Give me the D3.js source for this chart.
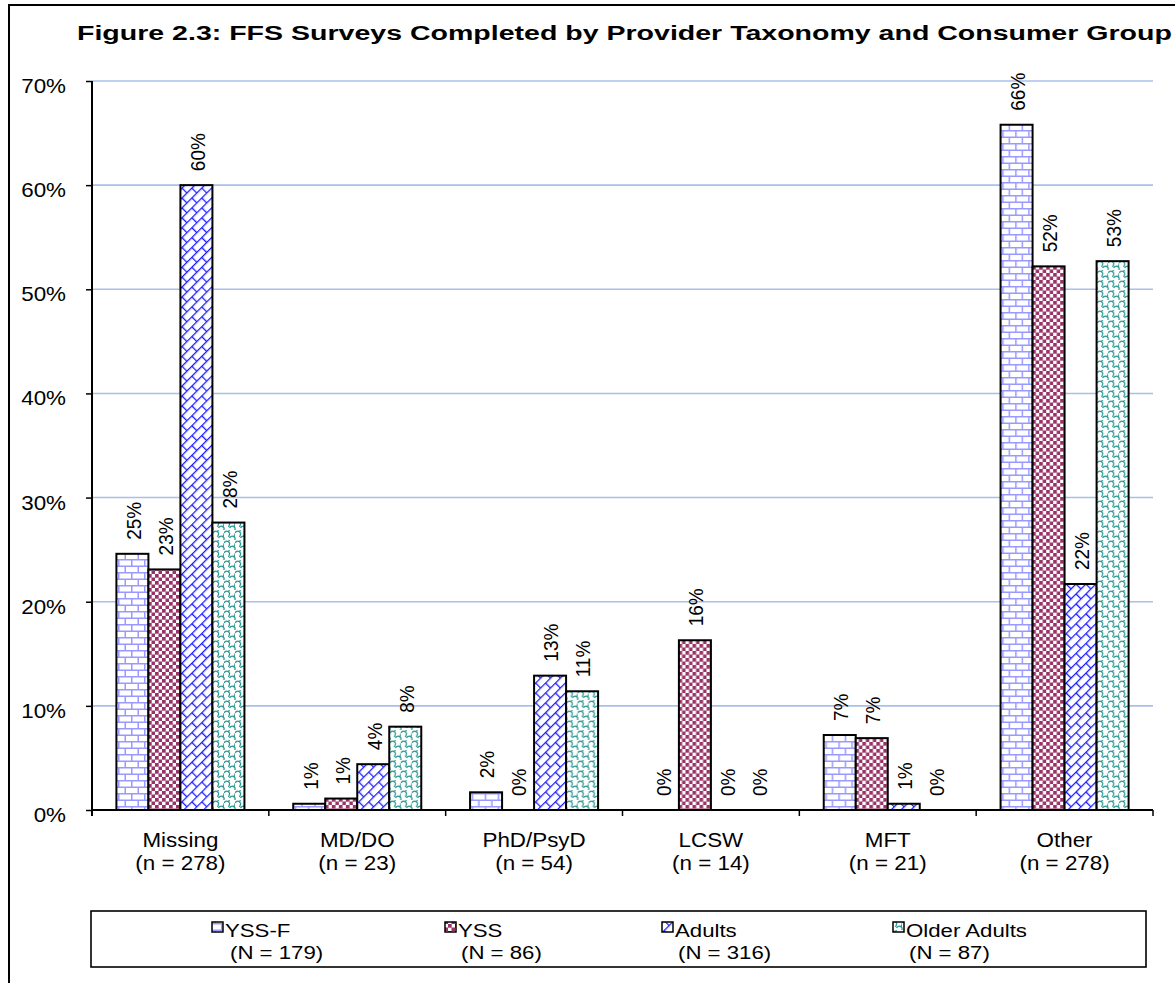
<!DOCTYPE html>
<html>
<head>
<meta charset="utf-8">
<script src="https://cdn.jsdelivr.net/npm/d3@7"></script>
<style>
  html, body { margin: 0; padding: 0; background: #fff; }
  svg { display: block; }
  text { font-family: "Liberation Sans", Arial, sans-serif; fill: #000; }
</style>
</head>
<body>
<svg id="chart" width="1175" height="983"></svg>
<script>
// Provider taxonomy categories and their survey counts
const categories = ["Missing", "MD/DO", "PhD/PsyD", "LCSW", "MFT", "Other"];
const categoryN = [278, 23, 54, 14, 21, 278];

// Consumer groups and their totals
const seriesNames = ["YSS-F", "YSS", "Adults", "Older Adults"];
const seriesN = [179, 86, 316, 87];

// Percent of surveys per taxonomy, one array per consumer group
const yssF        = [24.6, 0.6, 1.7, 0.0, 7.2, 65.8];
const yss         = [23.1, 1.1, 0.0, 16.3, 6.9, 52.2];
const adults      = [60.0, 4.4, 12.9, 0.0, 0.6, 21.7];
const olderAdults = [27.6, 8.0, 11.4, 0.0, 0.0, 52.7];

const yTicks = [0, 10, 20, 30, 40, 50, 60, 70];

const seriesValues = [yssF, yss, adults, olderAdults];
const patternIds = ["pat-yssf", "pat-yss", "pat-adults", "pat-older"];

const svg = d3.select("#chart");
const W = 1175, H = 983;
const plot = { left: 92, right: 1153, top: 81, bottom: 810 };

svg.append("rect").attr("width", W).attr("height", H).attr("fill", "#fff");

// ---- fill patterns ----
const defs = svg.append("defs");

// horizontal brick, lavender
const pA = defs.append("pattern").attr("id", "pat-yssf")
  .attr("patternUnits", "userSpaceOnUse").attr("width", 13).attr("height", 13);
pA.append("rect").attr("width", 13).attr("height", 13).attr("fill", "#fff");
pA.append("path").attr("d", "M0,0.75H13 M0,7.25H13 M0.75,0V6.5 M7.25,6.5V13")
  .attr("stroke", "#9999FF").attr("stroke-width", 1.5).attr("fill", "none");

// checkerboard, maroon
const pB = defs.append("pattern").attr("id", "pat-yss")
  .attr("patternUnits", "userSpaceOnUse").attr("width", 7).attr("height", 7);
pB.append("rect").attr("width", 7).attr("height", 7).attr("fill", "#fff");
pB.append("rect").attr("x", 0).attr("y", 0).attr("width", 3.7).attr("height", 3.7).attr("fill", "#993366");
pB.append("rect").attr("x", 3.5).attr("y", 3.5).attr("width", 3.7).attr("height", 3.7).attr("fill", "#993366");

// diagonal brick, blue
const pC = defs.append("pattern").attr("id", "pat-adults")
  .attr("patternUnits", "userSpaceOnUse").attr("width", 14).attr("height", 14)
  .attr("patternTransform", "rotate(-45)");
pC.append("rect").attr("width", 14).attr("height", 14).attr("fill", "#fff");
pC.append("path").attr("d", "M0,0.6H14 M0,7.6H14 M0.6,0V7 M7.6,7V14")
  .attr("stroke", "#1a1aff").attr("stroke-width", 1.3).attr("fill", "none");

// shingle, teal
const pD = defs.append("pattern").attr("id", "pat-older")
  .attr("patternUnits", "userSpaceOnUse").attr("width", 11).attr("height", 10);
pD.append("rect").attr("width", 11).attr("height", 10).attr("fill", "#fff");
pD.append("path")
  .attr("d", [
    "M0,3 C1.5,0.5 4,0.5 5.5,3 C6,4.5 5,5.5 4.5,7",
    "M5.5,8 C7,5.5 9.5,5.5 11,8 C11.5,9.5 10.5,10.5 10,12",
    "M-5.5,8 C-4,5.5 -1.5,5.5 0,8 C0.5,9.5 -0.5,10.5 -1,12",
    "M11,3 C11.5,4.5 10.5,5.5 10,7",
    "M5.5,-2 C6,-0.5 5,0.5 4.5,2"
  ].join(" "))
  .attr("stroke", "#2f9a95").attr("stroke-width", 1.3).attr("fill", "none");

// ---- frame ----
svg.append("rect").attr("x", 9).attr("y", 5).attr("width", 1200).attr("height", 1000)
  .attr("fill", "none").attr("stroke", "#000").attr("stroke-width", 2);

// ---- text helper with a slight horizontal stretch ----
function label(g, x, y, str, opts) {
  const o = Object.assign({ size: 20, sx: 1.1, anchor: "start", weight: "normal" }, opts || {});
  return g.append("text")
    .attr("transform", `translate(${x},${y}) scale(${o.sx},1)`)
    .attr("text-anchor", o.anchor)
    .attr("font-size", o.size)
    .attr("font-weight", o.weight)
    .text(str);
}

// ---- title, stretched to span the chart width ----
const title = svg.append("text")
  .attr("font-size", 21).attr("font-weight", "bold")
  .text("Figure 2.3: FFS Surveys Completed by Provider Taxonomy and Consumer Group");
const titleLen = title.node().getComputedTextLength();
title.attr("transform", `translate(77,40) scale(${1095 / titleLen},1)`);

// ---- scales ----
const y = d3.scaleLinear().domain([0, 70]).range([plot.bottom, plot.top]);
const x0 = d3.scaleBand().domain(categories).range([plot.left, plot.right]).padding(0);
const x1 = d3.scaleBand().domain(seriesNames).range([0, x0.bandwidth()])
  .paddingInner(0).paddingOuter(0.7625);

// ---- gridlines ----
svg.append("g").selectAll("line")
  .data(yTicks.filter(t => t > 0))
  .join("line")
  .attr("x1", plot.left).attr("x2", plot.right)
  .attr("y1", d => y(d)).attr("y2", d => y(d))
  .attr("stroke", "#A9C0E8").attr("stroke-width", 1.6);

// ---- y axis ----
const yAxis = svg.append("g").attr("transform", `translate(${plot.left},0)`)
  .call(d3.axisLeft(y).tickValues(yTicks).tickSize(6).tickFormat(d => d + "%"));
yAxis.select(".domain").remove();
yAxis.selectAll(".tick line").attr("stroke", "#000").attr("stroke-width", 1.5);
yAxis.selectAll(".tick text").remove();
svg.append("line").attr("x1", plot.left).attr("x2", plot.left)
  .attr("y1", plot.top).attr("y2", plot.bottom + 6)
  .attr("stroke", "#000").attr("stroke-width", 2);
const yLab = svg.append("g");
yTicks.forEach(t => label(yLab, 66, y(t) + 12, t + "%", { anchor: "end", size: 20, sx: 1.12 }));

// ---- bars ----
const groups = svg.append("g").selectAll("g")
  .data(categories)
  .join("g")
  .attr("transform", d => `translate(${x0(d)},0)`);

const barData = (c, ci) => seriesNames.map((s, si) => ({ cat: c, series: s, si, value: seriesValues[si][ci] }));

groups.selectAll("rect")
  .data((c, ci) => barData(c, ci).filter(d => d.value > 0))
  .join("rect")
  .attr("x", d => x1(d.series))
  .attr("width", x1.bandwidth())
  .attr("y", d => y(d.value))
  .attr("height", d => y(0) - y(d.value))
  .attr("fill", d => `url(#${patternIds[d.si]})`)
  .attr("stroke", "#000").attr("stroke-width", 2);

// value labels, rotated
groups.selectAll("text.val")
  .data((c, ci) => barData(c, ci))
  .join("text")
  .attr("class", "val")
  .attr("transform", d => `translate(${x1(d.series) + x1.bandwidth() / 2 + 1},${y(d.value) - 14}) scale(1.06,1) rotate(-90)`)
  .attr("text-anchor", "start")
  .attr("dy", "0.36em")
  .attr("font-size", 19)
  .text(d => Math.round(d.value) + "%");

// ---- x axis ----
svg.append("line").attr("x1", plot.left).attr("x2", plot.right)
  .attr("y1", plot.bottom).attr("y2", plot.bottom)
  .attr("stroke", "#000").attr("stroke-width", 2);
svg.append("g").selectAll("line")
  .data(categories.concat(["_end"]))
  .join("line")
  .attr("x1", (d, i) => plot.left + i * x0.step())
  .attr("x2", (d, i) => plot.left + i * x0.step())
  .attr("y1", plot.bottom).attr("y2", plot.bottom + 6)
  .attr("stroke", "#000").attr("stroke-width", 1.5);

const xLab = svg.append("g");
categories.forEach((c, i) => {
  const cx = x0(c) + x0.bandwidth() / 2;
  label(xLab, cx, 847, c, { anchor: "middle", size: 20, sx: 1.12 });
  label(xLab, cx, 870, `(n = ${categoryN[i]})`, { anchor: "middle", size: 20, sx: 1.12 });
});

// ---- legend ----
const legend = svg.append("g");
legend.append("rect").attr("x", 91).attr("y", 911).attr("width", 1055).attr("height", 56)
  .attr("fill", "#fff").attr("stroke", "#000").attr("stroke-width", 1.6);
const legendX = [212, 445, 662, 893];
const legendSecondDx = [18, 16, 16, 16];
seriesNames.forEach((s, i) => {
  legend.append("rect").attr("x", legendX[i]).attr("y", 922).attr("width", 11).attr("height", 10)
    .attr("fill", `url(#${patternIds[i]})`).attr("stroke", "#000").attr("stroke-width", 1.5);
  label(legend, legendX[i] + 13, 937, s, { size: 19, sx: 1.17 });
  label(legend, legendX[i] + legendSecondDx[i], 959, `(N = ${seriesN[i]})`, { size: 19, sx: 1.17 });
});
</script>
</body>
</html>
